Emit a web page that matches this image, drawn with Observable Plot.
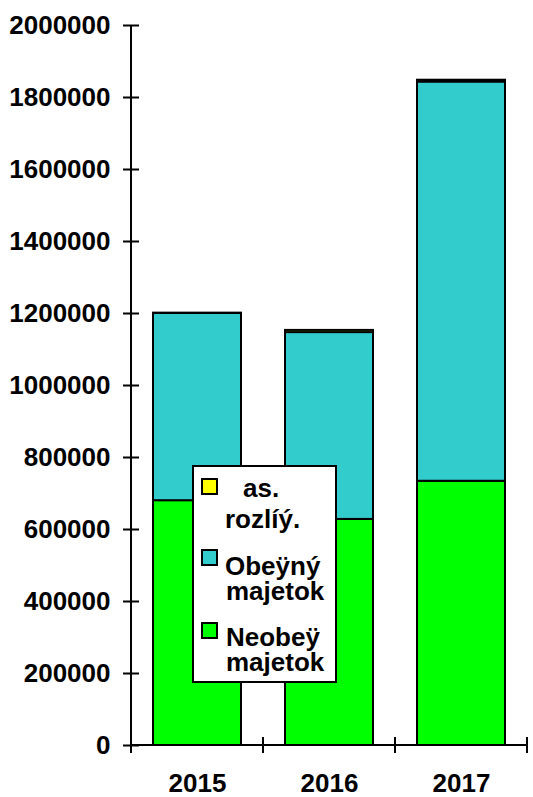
<!DOCTYPE html>
<html><head><meta charset="utf-8">
<script src="https://cdn.jsdelivr.net/npm/d3@7"></script>
<script src="https://cdn.jsdelivr.net/npm/@observablehq/plot@0.6"></script>
<style>
body{margin:0;background:#fff;}
#wrap{position:relative;width:533px;height:797px;font-family:"Liberation Sans",Arial,sans-serif;font-weight:bold;}
#legend{position:absolute;left:192px;top:465px;width:141px;height:214px;border:2px solid #000;background:#fff;}
.sw{position:absolute;width:13px;height:13px;border:2px solid #000;left:7px;}
.lt{position:absolute;font-size:26px;line-height:22px;white-space:nowrap;color:#000;}
</style></head>
<body>
<div id="wrap"></div>
<script>
const years = ["2015", "2016", "2017"];
const neobezny = [680000, 628000, 734000];
const obezny = [520000, 519000, 1109000];
const rozlisenie = [1000, 6000, 5000];
const seriesNames = ["Neobeÿ majetok", "Obeÿný majetok", "as. rozlíý."];
const seriesColors = ["#00ff00", "#33cccc", "#ffff00"];
const yTicks = [0, 200000, 400000, 600000, 800000, 1000000, 1200000, 1400000, 1600000, 1800000, 2000000];

const seriesValues = [neobezny, obezny, rozlisenie];
const data = years.flatMap((yr, i) => seriesNames.map((s, k) => ({year: yr, series: s, value: seriesValues[k][i]})));

const padIn = 0.333;
const font = '"Liberation Sans", Arial, sans-serif';

const axesMark = (index, scales, values, dimensions) => {
  const {x, y} = scales;
  const g = d3.create("svg:g").attr("stroke", "#000").attr("stroke-width", 2).attr("fill", "none");
  const x0 = dimensions.marginLeft, x1 = dimensions.width - dimensions.marginRight;
  const yb = y(0), yt = y(2000000);
  g.append("line").attr("x1", x0).attr("x2", x0).attr("y1", yt).attr("y2", yb);
  g.append("line").attr("x1", x0).attr("x2", x1).attr("y1", yb).attr("y2", yb);
  const step = x(years[1]) - x(years[0]);
  const bounds = years.map(yr => x(yr) - padIn * step / 2);
  bounds.push(bounds[bounds.length - 1] + step);
  bounds.forEach(b => g.append("line").attr("x1", b).attr("x2", b).attr("y1", yb - 8).attr("y2", yb + 8));
  return g.node();
};

const plot = Plot.plot({
  width: 533,
  height: 797,
  marginLeft: 131,
  marginRight: 5,
  marginTop: 25,
  marginBottom: 52,
  style: {fontFamily: font, fontWeight: "bold", fontSize: "26px", color: "#000", background: "#fff"},
  x: {domain: years, paddingInner: padIn, paddingOuter: padIn / 2, axis: null},
  y: {domain: [0, 2000000], axis: null},
  color: {domain: seriesNames, range: seriesColors},
  marks: [
    Plot.barY(data, {x: "year", y: "value", fill: "series", order: seriesNames, stroke: "#000", strokeWidth: 2}),
    axesMark,
    Plot.axisY({ticks: yTicks, tickSize: 8, tickPadding: 13, tickFormat: d => String(d), strokeWidth: 2, fontSize: 26, fontWeight: "bold", label: null}),
    Plot.axisY({ticks: yTicks, tickSize: -8, tickFormat: () => "", strokeWidth: 2, label: null}),
    Plot.axisX({tickSize: 0, tickPadding: 28, fontSize: 26, fontWeight: "bold", label: null})
  ]
});
const wrap = document.getElementById("wrap");
wrap.appendChild(plot);

const legend = document.createElement("div");
legend.id = "legend";
const items = [
  {color: seriesColors[2], swTop: 11, lines: [["as.", 49, 10], ["rozlíý.", 31, 41]]},
  {color: seriesColors[1], swTop: 82, lines: [["Obeÿný", 31, 88], ["majetok", 32, 113]]},
  {color: seriesColors[0], swTop: 155, lines: [["Neobeÿ", 32, 159], ["majetok", 32, 184]]}
];
items.forEach(it => {
  const sw = document.createElement("div");
  sw.className = "sw";
  sw.style.top = it.swTop + "px";
  sw.style.background = it.color;
  legend.appendChild(sw);
  it.lines.forEach(([t, l, tp]) => {
    const s = document.createElement("div");
    s.className = "lt";
    s.textContent = t;
    s.style.left = l + "px";
    s.style.top = tp + "px";
    legend.appendChild(s);
  });
});
wrap.appendChild(legend);
</script>
</body></html>
